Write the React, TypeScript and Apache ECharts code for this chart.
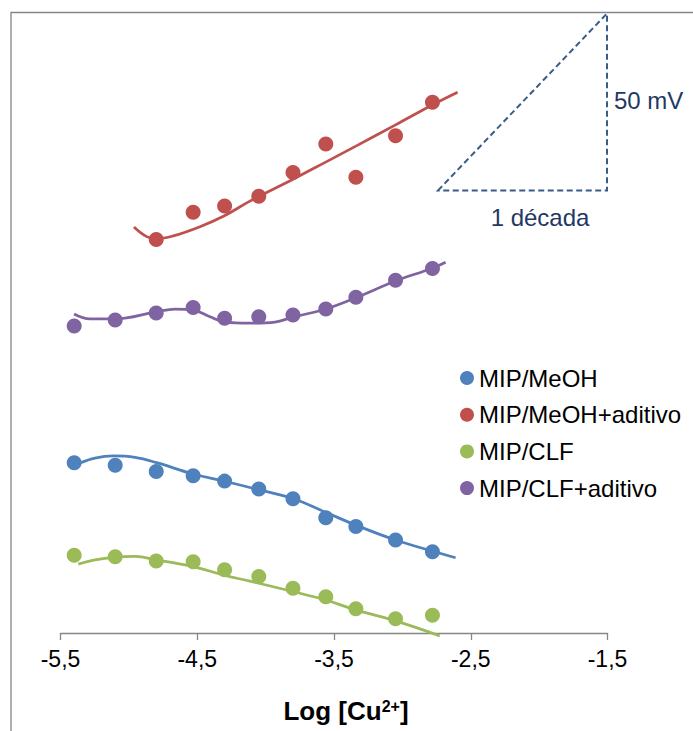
import React, { useEffect, useRef } from "react";
import * as echarts from "echarts";

// ---- data ----
const logCu = [-5.4, -5.1, -4.8, -4.53, -4.3, -4.05, -3.8, -3.56, -3.34, -3.05, -2.78];
const mipMeOH = [48.0, 47.3, 45.5, 44.3, 42.8, 40.6, 37.8, 32.5, 30.0, 26.2, 22.9];
const mipMeOHAditivo = [null, null, 110.9, 118.6, 120.3, 123.1, 129.8, 137.8, 128.4, 140.1, 149.6];
const mipCLF = [21.9, 21.5, 20.3, 20.1, 17.8, 15.9, 12.6, 10.2, 6.8, 4.0, 5.0];
const mipCLFAditivo = [86.5, 88.2, 90.2, 91.7, 88.7, 89.1, 89.6, 91.3, 94.6, 99.4, 102.7];

// trend curves
const blueTrendX = [-5.357, -5.248, -5.114, -4.955, -4.797, -4.529, -4.305, -4.115, -3.803, -3.561, -3.34, -3.05, -2.782, -2.611];
const blueTrendY = [47.9, 49.3, 49.9, 49.5, 48.0, 44.8, 42.8, 41.0, 37.9, 34.0, 30.4, 26.2, 23.1, 21.2];
const redTrendX = [-4.963, -4.87, -4.797, -4.675, -4.48, -4.305, -4.115, -3.803, -3.561, -3.34, -3.05, -2.782, -2.596];
const redTrendY = [114.4, 111.7, 111.1, 111.9, 114.5, 117.5, 121.7, 127.8, 132.7, 137.2, 143.2, 148.8, 152.4];
const greenTrendX = [-5.37, -5.248, -5.102, -4.955, -4.797, -4.529, -4.305, -4.115, -3.803, -3.561, -3.34, -3.05, -2.727];
const greenTrendY = [19.4, 20.6, 21.4, 21.6, 20.6, 18.7, 16.3, 14.6, 11.7, 9.3, 6.5, 3.4, -0.8];
const purpleTrendX = [-5.401, -5.284, -5.102, -4.8, -4.663, -4.529, -4.407, -4.305, -4.115, -3.932, -3.803, -3.561, -3.34, -3.05, -2.782, -2.684];
const purpleTrendY = [89.9, 88.5, 88.5, 90.5, 91.3, 91.0, 89.1, 87.7, 87.3, 87.6, 89.0, 91.3, 94.5, 99.2, 102.8, 104.5];

const xTickValues = [-5.5, -4.5, -3.5, -2.5, -1.5];
const seriesNames = ["MIP/MeOH", "MIP/MeOH+aditivo", "MIP/CLF", "MIP/CLF+aditivo"];
const colors = ["#4F81BD", "#C0504D", "#9BBB59", "#8064A2"];

const FONT = "'Liberation Sans', Arial, sans-serif";

const pairs = (xs: number[], ys: (number | null)[]) =>
  xs.map((x, i) => [x, ys[i]]).filter((p) => p[1] !== null);

export default function App() {
  const ref = useRef<HTMLDivElement>(null);
  useEffect(() => {
    if (!ref.current) return;
    const chart = echarts.init(ref.current, null, { renderer: "svg" });
    const scatterData = [mipMeOH, mipMeOHAditivo, mipCLF, mipCLFAditivo];
    const trends = [
      [blueTrendX, blueTrendY],
      [redTrendX, redTrendY],
      [greenTrendX, greenTrendY],
      [purpleTrendX, purpleTrendY],
    ];
    const series: any[] = [];
    trends.forEach((t, i) => {
      series.push({
        name: seriesNames[i] + " (tendencia)",
        type: "line",
        data: pairs(t[0] as number[], t[1] as number[]),
        smooth: 0.4,
        showSymbol: false,
        symbol: "none",
        clip: false,
        lineStyle: { color: colors[i], width: 2.75 },
        z: 2,
        silent: true,
      });
    });
    scatterData.forEach((d, i) => {
      series.push({
        name: seriesNames[i],
        type: "scatter",
        data: pairs(logCu, d),
        symbol: "circle",
        symbolSize: 15,
        itemStyle: { color: colors[i], opacity: 1 },
        z: 3,
      });
    });

    chart.setOption({
      animation: false,
      backgroundColor: "#ffffff",
      textStyle: { fontFamily: FONT },
      grid: { left: 60.5, right: 85.5, top: 12, bottom: 98, containLabel: false },
      xAxis: {
        type: "value",
        min: -5.5,
        max: -1.5,
        name: "{a|Log [Cu}{s|2+}{a|]}",
        nameLocation: "middle",
        nameGap: 65,
        nameTextStyle: {
          padding: [0, 0, 0, 24],
          rich: {
            a: { fontSize: 26, fontWeight: "bold", color: "#000", fontFamily: FONT },
            s: { fontSize: 16, fontWeight: "bold", color: "#000", fontFamily: FONT, padding: [0, 0, 10, 0] },
          },
        },
        axisLine: { show: true, onZero: false, lineStyle: { color: "#868686", width: 1.3 } },
        axisTick: { show: true, inside: false, length: 7, customValues: xTickValues, lineStyle: { color: "#868686", width: 1.3 } },
        axisLabel: {
          customValues: xTickValues,
          fontSize: 23,
          color: "#000",
          fontFamily: FONT,
          margin: 14,
          formatter: (v: number) => v.toFixed(1).replace(".", ","),
        },
        splitLine: { show: false },
      },
      yAxis: {
        type: "value",
        min: 0,
        max: 175,
        show: false,
        splitLine: { show: false },
      },
      legend: {
        data: seriesNames,
        orient: "vertical",
        left: 460,
        top: 365,
        padding: 0,
        itemWidth: 14,
        itemHeight: 14,
        itemGap: 10.7,
        icon: "circle",
        textStyle: { fontSize: 24, color: "#000", fontFamily: FONT, lineHeight: 26 },
      },
      graphic: [
        {
          type: "polyline",
          shape: { points: [[11, 731], [11, 12.5], [693, 12.5]] },
          style: { stroke: "#868686", lineWidth: 1.3, fill: "none" },
          silent: true,
        },
        {
          type: "polygon",
          shape: { points: [[438, 190.5], [607, 13.5], [607, 190.5]] },
          style: { stroke: "#385D8A", lineWidth: 2, fill: "none", lineDash: [6, 3.5] },
          silent: true,
        },
        {
          type: "text",
          x: 614,
          y: 100,
          style: { text: "50 mV", fontSize: 24, fill: "#1F3864", fontFamily: FONT, verticalAlign: "middle" },
          silent: true,
        },
        {
          type: "text",
          x: 540,
          y: 217,
          style: { text: "1 década", fontSize: 24, fill: "#1F3864", fontFamily: FONT, align: "center", verticalAlign: "middle" },
          silent: true,
        },
      ],
      series,
    });
    return () => chart.dispose();
  }, []);
  return (
    <div
      ref={ref}
      style={{ position: "absolute", left: 0, top: 0, width: 693, height: 731, background: "#fff" }}
    />
  );
}
